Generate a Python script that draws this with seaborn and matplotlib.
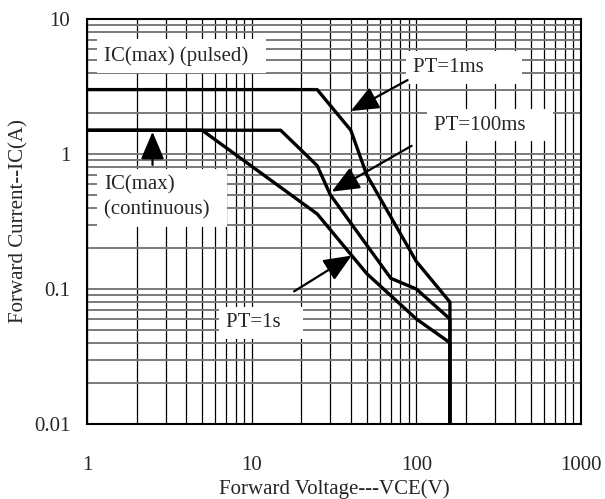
import pandas as pd
import matplotlib
matplotlib.use("Agg")
import matplotlib.pyplot as plt
import seaborn as sns

# SOA curves
v_1ms = [1, 25, 40, 50, 100, 160, 160]
i_1ms = [3, 3, 1.5, 0.7, 0.16, 0.08, 0.01]
v_100ms = [1, 15, 25, 30, 70, 100, 160, 160]
i_100ms = [1.5, 1.5, 0.82, 0.5, 0.12, 0.1, 0.06, 0.01]
v_1s = [1, 5, 25, 50, 100, 160, 160]
i_1s = [1.5, 1.5, 0.36, 0.13, 0.06, 0.04, 0.01]

x_ticks = [1, 10, 100, 1000]
x_ticklabels = ["1", "10", "100", "1000"]
y_ticks = [0.01, 0.1, 1, 10]
y_ticklabels = ["0.01", "0.1", "1", "10"]

frames = []
for name, v, i in [("1ms", v_1ms, i_1ms), ("100ms", v_100ms, i_100ms), ("1s", v_1s, i_1s)]:
    frames.append(pd.DataFrame({"V": v, "I": i, "pt": name}))
df = pd.concat(frames, ignore_index=True)

sns.set_style("white")
plt.rcParams['font.family'] = ['Liberation Serif', 'DejaVu Serif']
fs = 15

fig = plt.figure(figsize=(6.05, 4.99), dpi=100)
ax = fig.add_axes([0.1438, 0.1503, 0.8165, 0.8116])

for name in ["1ms", "100ms", "1s"]:
    sns.lineplot(data=df[df.pt == name], x="V", y="I", sort=False, color="black",
                 lw=2.4, ax=ax, zorder=3, estimator=None)

ax.set_xscale("log")
ax.set_yscale("log")
ax.set_xlim(1, 1000)
ax.set_ylim(0.01, 10)
ax.set_axisbelow(True)
ax.grid(which="both", axis="x", color="black", lw=0.9)
ax.grid(which="both", axis="y", color="#7a7a7a", lw=1.4)

ax.set_xticks(x_ticks)
ax.set_xticklabels(x_ticklabels, fontsize=fs)
ax.set_yticks(y_ticks)
ax.set_yticklabels(y_ticklabels, fontsize=fs)
ax.tick_params(axis="x", which="both", direction="in", length=0, pad=23)
ax.tick_params(axis="y", which="major", direction="in", length=6, width=1.5, pad=12)
ax.tick_params(axis="y", which="minor", direction="in", length=4, width=1)
ax.set_xlabel("Forward Voltage---VCE(V)", fontsize=fs, labelpad=3)
ax.set_ylabel("Forward Current--IC(A)", fontsize=fs, labelpad=4)
for s in ax.spines.values():
    s.set_color("black")
    s.set_linewidth(1.5)

box = dict(facecolor="white", edgecolor="none", pad=5)
ax.text(1.27, 5.3, "IC(max) (pulsed)  ", fontsize=fs, ha="left", va="center", bbox=box, zorder=4)
ax.text(1.27, 0.476, "IC(max)\n(continuous)  ", fontsize=fs, ha="left", va="center",
        linespacing=1.4, bbox=box, zorder=4)
ax.text(95, 4.4, "PT=1ms      ", fontsize=fs, ha="left", va="center", bbox=box, zorder=4)
ax.text(128, 1.64, "PT=100ms    ", fontsize=fs, ha="left", va="center", bbox=box, zorder=4)
ax.text(7.0, 0.056, "PT=1s   ", fontsize=fs, ha="left", va="center", bbox=box, zorder=4)

arrow = dict(arrowstyle="-|>,head_length=0.85,head_width=0.36", color="black", lw=1.6,
             mutation_scale=20, shrinkA=0, shrinkB=0)
ax.annotate("", xy=(2.5, 1.46), xytext=(2.5, 0.83), arrowprops=arrow, zorder=5)
ax.annotate("", xy=(40, 2.08), xytext=(88.5, 3.53), arrowprops=arrow, zorder=5)
ax.annotate("", xy=(30.6, 0.526), xytext=(93.6, 1.15), arrowprops=arrow, zorder=5)
ax.annotate("", xy=(40.5, 0.177), xytext=(18.1, 0.096), arrowprops=arrow, zorder=5)

fig.savefig("out.png", dpi=100)
